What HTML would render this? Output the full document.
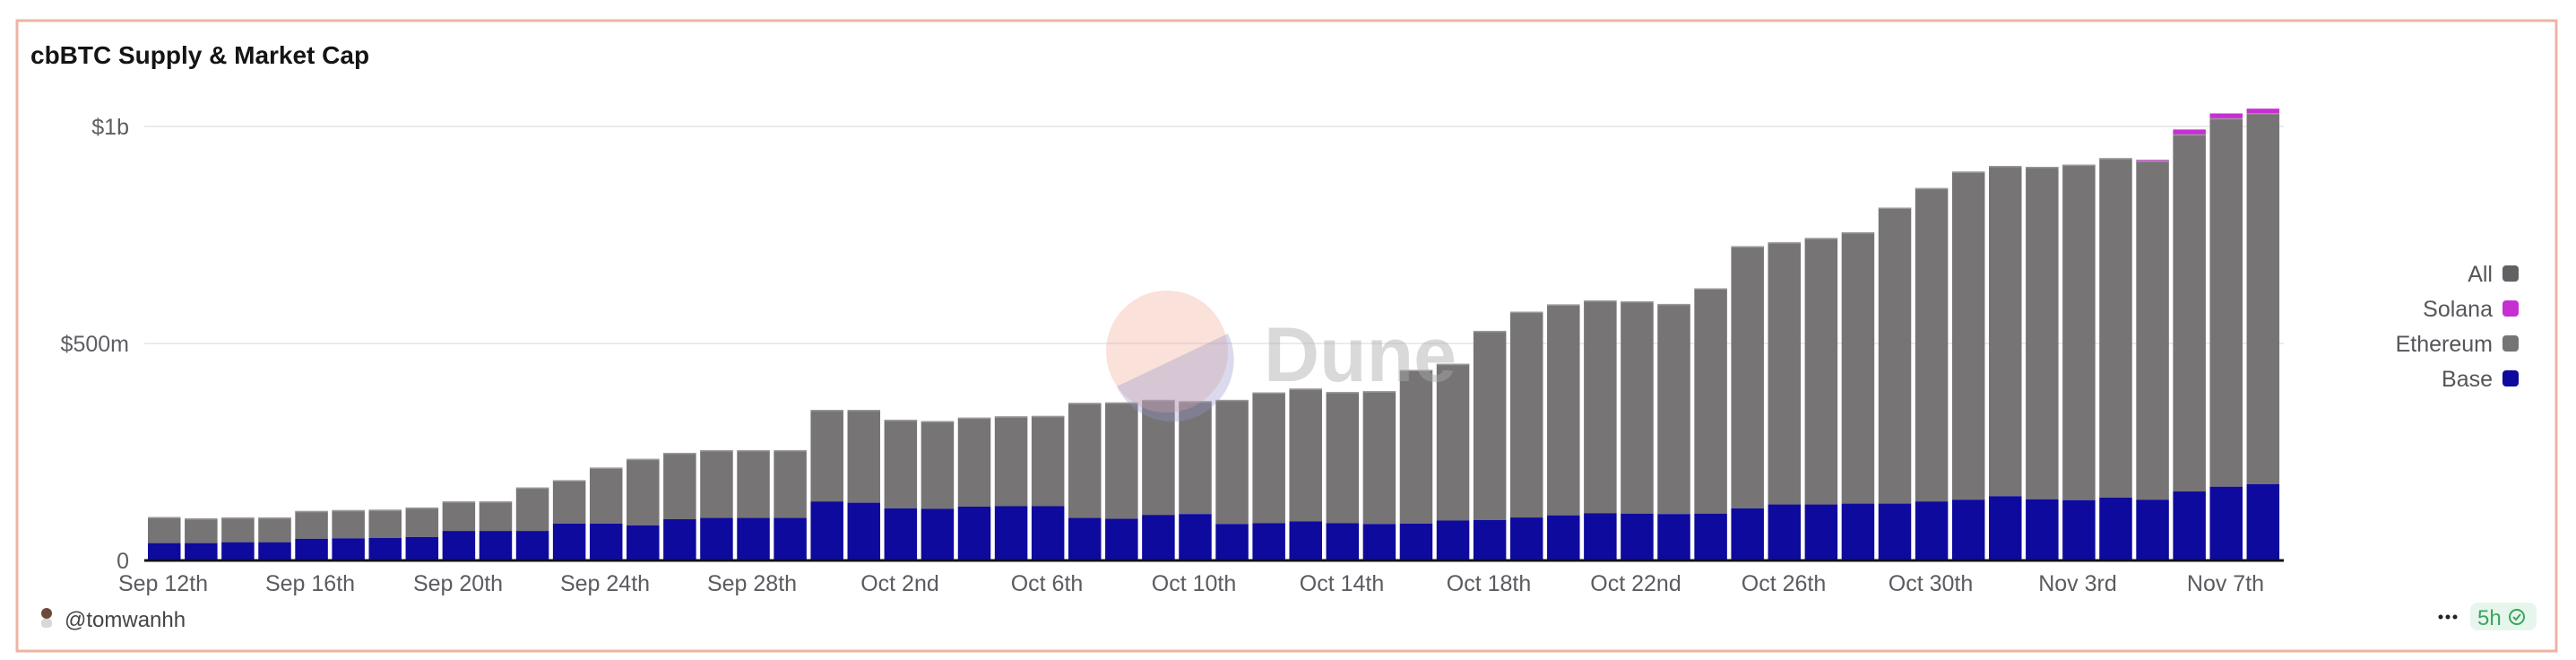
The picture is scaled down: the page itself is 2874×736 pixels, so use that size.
<!DOCTYPE html>
<html><head><meta charset="utf-8"><style>
html,body{margin:0;padding:0;background:#fff;width:2874px;height:736px;overflow:hidden;font-family:"Liberation Sans",sans-serif}
</style></head><body>
<svg id="s" width="2874" height="736" xmlns="http://www.w3.org/2000/svg" font-family="Liberation Sans, sans-serif">
<rect x="19" y="23" width="2833" height="703" fill="#fff" stroke="#eeb4a2" stroke-width="3"/>
<text x="34" y="71" font-size="28" font-weight="bold" fill="#141414">cbBTC Supply &amp; Market Cap</text>
<line x1="161" y1="141" x2="2548" y2="141" stroke="#ebebef" stroke-width="2"/>
<line x1="161" y1="383" x2="2548" y2="383" stroke="#ebebef" stroke-width="2"/>
<g font-size="25" fill="#5e5e63" text-anchor="end">
<text x="144" y="150">$1b</text>
<text x="144" y="392">$500m</text>
<text x="144" y="634">0</text>
</g>
<g id="bars"></g>
<line x1="161" y1="625" x2="2548" y2="625" stroke="#111" stroke-width="3"/>
<circle cx="1302" cy="392" r="68" fill="rgba(240,170,150,0.35)"/>
<path d="M1246,431 L1370,372 A68,68 0 0 1 1246,431 Z" fill="rgba(150,150,200,0.35)"/>
<text x="1410" y="425" font-size="86" font-weight="bold" fill="rgba(170,170,170,0.45)">Dune</text>
<g font-size="25" fill="#55555a" text-anchor="end">
<text x="2781" y="314">All</text>
<text x="2781" y="353">Solana</text>
<text x="2781" y="392">Ethereum</text>
<text x="2781" y="431">Base</text>
</g>
<rect x="2792" y="296" width="18" height="18" rx="4" fill="#606165"/>
<rect x="2792" y="335" width="18" height="18" rx="4" fill="#c72fd3"/>
<rect x="2792" y="374" width="18" height="18" rx="4" fill="#767475"/>
<rect x="2792" y="413" width="18" height="18" rx="4" fill="#0e0a9e"/>
<circle cx="52" cy="684" r="6" fill="#6b4a3a"/>
<rect x="46" y="690" width="12" height="10" rx="4" fill="#d8d8d8"/>
<text x="72" y="699" font-size="24" fill="#444">@tomwanhh</text>
<g fill="#222"><circle cx="2723" cy="688" r="2.5"/><circle cx="2731" cy="688" r="2.5"/><circle cx="2739" cy="688" r="2.5"/></g>
<rect x="2756" y="672" width="74" height="31" rx="8" fill="#e7f6ec"/>
<text x="2764" y="697" font-size="24" fill="#3aa55d">5h</text>
<circle cx="2808" cy="688" r="8" fill="none" stroke="#3aa55d" stroke-width="2"/>
<path d="M2804,688 l3,3 l5,-6" fill="none" stroke="#3aa55d" stroke-width="2"/>
</svg>
<script>
var T=[.100,.097,.099,.099,.114,.116,.117,.122,.136,.136,.168,.185,.214,.234,.248,.254,.254,.254,.347,.347,.324,.321,.329,.332,.333,.363,.364,.370,.367,.370,.387,.396,.388,.390,.439,.453,.529,.573,.590,.599,.597,.591,.627,.724,.733,.743,.756,.813,.858,.896,.909,.907,.912,.927,.921,.982,1.019,1.031];
var B=[.040,.040,.042,.042,.050,.051,.052,.054,.068,.068,.068,.085,.085,.081,.095,.098,.098,.098,.136,.133,.120,.119,.124,.125,.125,.098,.096,.105,.107,.084,.086,.090,.086,.084,.085,.092,.093,.099,.104,.109,.108,.107,.108,.120,.129,.129,.131,.131,.136,.140,.148,.141,.139,.145,.140,.159,.170,.176];
var S={54:.002,55:.011,56:.011,57:.010};
var ns="http://www.w3.org/2000/svg",g=document.getElementById('bars');
function r(x,y,w,h,f){var e=document.createElementNS(ns,'rect');e.setAttribute('x',x);e.setAttribute('y',y);e.setAttribute('width',w);e.setAttribute('height',h);e.setAttribute('fill',f);g.appendChild(e);}
var K=484,Y0=625;
for(var i=0;i<58;i++){var x=165+i*41.08,w=36.5;
var yb=Y0-B[i]*K,yt=Y0-T[i]*K;
r(x,yt,w,yb-yt,'#767475');r(x,yb,w,Y0-yb,'#0e0a9e');
r(x,yt,w,1.5,'#9a9899');
if(S[i]){var ys=yt-S[i]*K;r(x,ys,w,yt-ys,'#c72fd3');}}
</script>
<div style="position:absolute;left:0;top:0;width:2874px;height:736px;pointer-events:none;font-family:'Liberation Sans',sans-serif;font-size:25px;color:#5b5b60">
<span style="position:absolute;top:637px;left:122px;width:120px;text-align:center">Sep 12th</span>
<span style="position:absolute;top:637px;left:286px;width:120px;text-align:center">Sep 16th</span>
<span style="position:absolute;top:637px;left:451px;width:120px;text-align:center">Sep 20th</span>
<span style="position:absolute;top:637px;left:615px;width:120px;text-align:center">Sep 24th</span>
<span style="position:absolute;top:637px;left:779px;width:120px;text-align:center">Sep 28th</span>
<span style="position:absolute;top:637px;left:944px;width:120px;text-align:center">Oct 2nd</span>
<span style="position:absolute;top:637px;left:1108px;width:120px;text-align:center">Oct 6th</span>
<span style="position:absolute;top:637px;left:1272px;width:120px;text-align:center">Oct 10th</span>
<span style="position:absolute;top:637px;left:1437px;width:120px;text-align:center">Oct 14th</span>
<span style="position:absolute;top:637px;left:1601px;width:120px;text-align:center">Oct 18th</span>
<span style="position:absolute;top:637px;left:1765px;width:120px;text-align:center">Oct 22nd</span>
<span style="position:absolute;top:637px;left:1930px;width:120px;text-align:center">Oct 26th</span>
<span style="position:absolute;top:637px;left:2094px;width:120px;text-align:center">Oct 30th</span>
<span style="position:absolute;top:637px;left:2258px;width:120px;text-align:center">Nov 3rd</span>
<span style="position:absolute;top:637px;left:2423px;width:120px;text-align:center">Nov 7th</span>
</div>
</body></html>
